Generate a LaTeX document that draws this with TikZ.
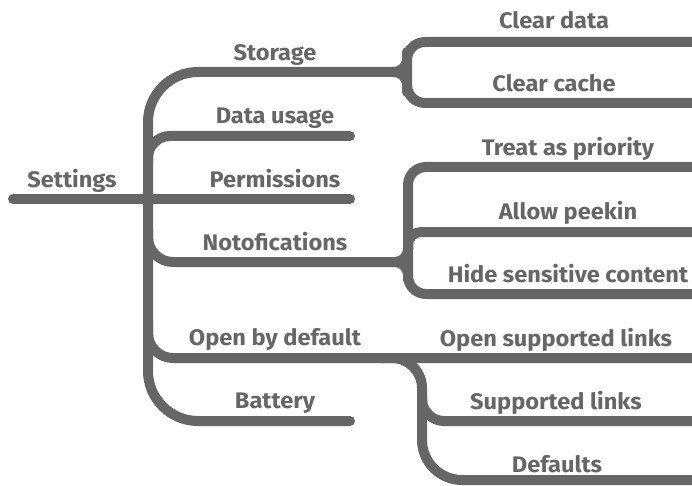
\documentclass[tikz,border=0pt]{standalone}
\usepackage{fontspec}
\setmainfont{Fira Sans}[FakeStretch=1.05]
\definecolor{mapgray}{HTML}{666666}
\def\lw{10pt}
\def\fs{22.5}

\begin{document}
\begin{tikzpicture}[x=1pt,y=-1pt,
  branch/.style={draw=mapgray, line width=\lw, line cap=round, line join=round},
  lbl/.style={text=mapgray, font=\fontsize{\fs}{\fs}\selectfont\bfseries, inner sep=0pt, anchor=base}]

\useasboundingbox (0,0) rectangle (692,486);
\clip (0,0) rectangle (692,486);

% Junctions and line ends
\coordinate (rootL) at (13,199);
\coordinate (rootR) at (350,199);
\coordinate (trunkT) at (148,72);
\coordinate (trunkB) at (148,421);
\coordinate (battR) at (350,421);
\coordinate (storeE) at (392,72);
\coordinate (storeJ) at (407,72);
\coordinate (notiJ) at (408,262);
\coordinate (openJ) at (422,358);

% Settings line (through Permissions)
\draw[branch] (rootL) -- (rootR);

% Trunk: Storage down to Battery
\draw[branch, rounded corners=50pt] (storeE) -- (trunkT) -- (trunkB) -- (battR);

% Data usage
\draw[branch, rounded corners=22pt] (148,165) -- (148,136) -- (350,136);

% Notofications
\draw[branch, rounded corners=25pt] (148,230) -- (148,262) -- (392,262);

% Open by default / Open supported links
\draw[branch, rounded corners=25pt] (148,320) -- (148,358) -- (700,358);

% Storage brace
\draw[branch, rounded corners=18pt] (700,42) -- (407,42) -- (407,103) -- (700,103);
\draw[branch, rounded corners=13pt] (storeE) -- (storeJ) -- (407,52);
\draw[branch, rounded corners=13pt] (storeE) -- (storeJ) -- (407,92);

% Notofications brace
\draw[branch, rounded corners=18pt] (700,167) -- (408,167) -- (408,294) -- (700,294);
\draw[branch, rounded corners=13pt] (408,250) -- (408,232) -- (700,232); % Allow peekin
\draw[branch, rounded corners=13pt] (392,262) -- (notiJ) -- (408,245);
\draw[branch, rounded corners=13pt] (392,262) -- (notiJ) -- (408,280);

% Open by default branch
\draw[branch, rounded corners=30pt] (380,358) -- (openJ) -- (422,420);
\draw[branch, rounded corners=40pt] (422,400) -- (422,480) -- (700,480); % Defaults
\draw[branch, rounded corners=22pt] (422,395) -- (422,421) -- (700,421); % Supported links

% Labels
\node[lbl] (settings) at (72,188) {Settings};
\node[lbl] (storage) at (275,61) {Storage};
\node[lbl] (datausage) at (275,124) {Data usage};
\node[lbl] (permissions) at (275,188) {Permissions};
\node[lbl] (notifications) at (275,250) {Notofications};
\node[lbl] (openbydefault) at (275,345) {Open by default};
\node[lbl] (battery) at (275,408) {Battery};
\node[lbl] (cleardata) at (554,29) {Clear data};
\node[lbl] (clearcache) at (554,92) {Clear cache};
\node[lbl] (priority) at (568,156) {Treat as priority};
\node[lbl] (peekin) at (568,219) {Allow peekin};
\node[lbl] (hide) at (568,282) {Hide sensitive content};
\node[lbl] (opensupp) at (556,346) {Open supported links};
\node[lbl] (supported) at (556,409) {Supported links};
\node[lbl] (defaults) at (557,472) {Defaults};

\end{tikzpicture}
\end{document}
